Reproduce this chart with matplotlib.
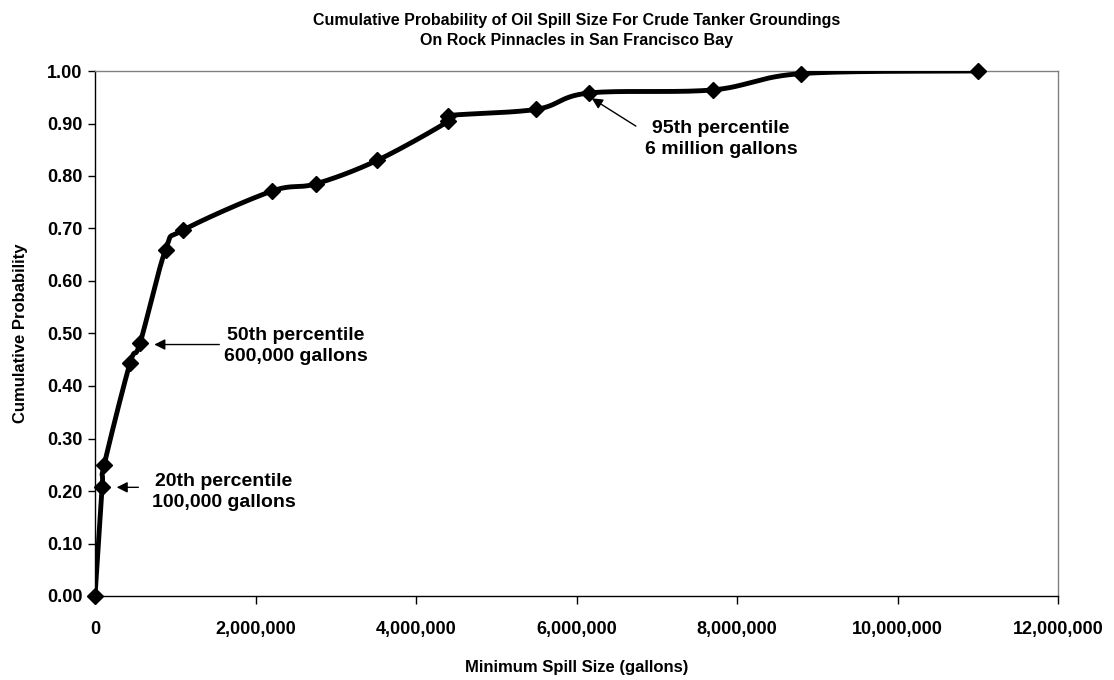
import numpy as np
import matplotlib
matplotlib.use('Agg')
import matplotlib.pyplot as plt
from matplotlib.ticker import FuncFormatter, MultipleLocator

plt.rcParams['font.family'] = ['Liberation Sans', 'DejaVu Sans']
plt.rcParams['font.weight'] = 'bold'

# spill size (gallons) vs cumulative probability
spill_size = [0, 90000, 115000, 435000, 560000, 880000, 1100000, 2200000, 2750000,
              3520000, 4400000, 4400000, 5500000, 6150000, 7700000, 8800000, 11000000]
cum_prob = [0.0, 0.208, 0.250, 0.443, 0.481, 0.660, 0.697, 0.771, 0.785,
            0.830, 0.904, 0.915, 0.927, 0.958, 0.964, 0.995, 1.0]

title = 'Cumulative Probability of Oil Spill Size For Crude Tanker Groundings\nOn Rock Pinnacles in San Francisco Bay'
xlabel = 'Minimum Spill Size (gallons)'
ylabel = 'Cumulative Probability'

notes = ['20th percentile\n100,000 gallons',
         '50th percentile\n600,000 gallons',
         '95th percentile\n6 million gallons']
note_xy = [(270000, 0.207), (739000, 0.479), (6190000, 0.948)]     # arrow heads
note_tail = [(540000, 0.207), (1549000, 0.479), (6740000, 0.895)]  # arrow tails
note_text = [(1607000, 0.198), (2505000, 0.476), (7800000, 0.870)]


def smooth(xs, ys, n=30):
    # catmull-rom style smoothing, like the spreadsheet "smoothed line"
    xs = np.asarray(xs, float)
    ys = np.asarray(ys, float)
    px = np.concatenate([[xs[0]], xs, [xs[-1]]])
    py = np.concatenate([[ys[0]], ys, [ys[-1]]])
    outx, outy = [], []
    t = np.linspace(0, 1, n)
    for i in range(1, len(px) - 2):
        p0 = np.array([px[i], py[i]])
        p3 = np.array([px[i + 1], py[i + 1]])
        c1 = p0 + (p3 - np.array([px[i - 1], py[i - 1]])) / 6.0
        c2 = p3 - (np.array([px[i + 2], py[i + 2]]) - p0) / 6.0
        for tt in t:
            b = ((1 - tt) ** 3) * p0 + 3 * ((1 - tt) ** 2) * tt * c1 + 3 * (1 - tt) * tt ** 2 * c2 + tt ** 3 * p3
            outx.append(b[0])
            outy.append(b[1])
    return outx, outy


fig = plt.figure(figsize=(11.14, 6.8), dpi=100)
ax = fig.add_axes([95 / 1114, 84 / 680, 963 / 1114, 525 / 680])

sx, sy = smooth(spill_size, cum_prob)
ax.plot(sx, sy, color='black', lw=3.5, solid_capstyle='round', solid_joinstyle='round', zorder=3)
ax.plot(spill_size, cum_prob, linestyle='none', marker='D', markersize=8,
        color='black', zorder=4, clip_on=False)

ax.set_xlim(0, 12000000)
ax.set_ylim(0, 1.0)
ax.xaxis.set_major_locator(MultipleLocator(2000000))
ax.yaxis.set_major_locator(MultipleLocator(0.1))
ax.xaxis.set_major_formatter(FuncFormatter(lambda v, p: f'{int(v):,}'))
ax.yaxis.set_major_formatter(FuncFormatter(lambda v, p: f'{v:.2f}'))

for s in ['left', 'bottom']:
    ax.spines[s].set_color('black')
    ax.spines[s].set_linewidth(1)
for s in ['top', 'right']:
    ax.spines[s].set_color('#808080')
    ax.spines[s].set_linewidth(1)

ax.tick_params(axis='x', direction='out', length=6, width=1, labelsize=13, pad=12)
ax.tick_params(axis='y', direction='out', length=5, width=1, labelsize=13, pad=4)
for lab in ax.get_xticklabels() + ax.get_yticklabels():
    lab.set_fontweight('bold')

ax.set_xlabel(xlabel, fontsize=12, fontweight='bold', labelpad=16)
ax.set_ylabel(ylabel, fontsize=12, fontweight='bold', labelpad=14)
ax.set_title(title, fontsize=11.5, fontweight='bold', pad=19, linespacing=1.4)

for txt, head, tail, pos in zip(notes, note_xy, note_tail, note_text):
    ax.annotate('', xy=head, xytext=tail,
                arrowprops=dict(arrowstyle='-|>', color='black', lw=1, mutation_scale=16,
                                shrinkA=0, shrinkB=0))
    ax.text(pos[0], pos[1], txt, ha='center', va='center', fontsize=14,
            fontweight='bold', linespacing=1.3)

plt.savefig('out.png', dpi=100)
